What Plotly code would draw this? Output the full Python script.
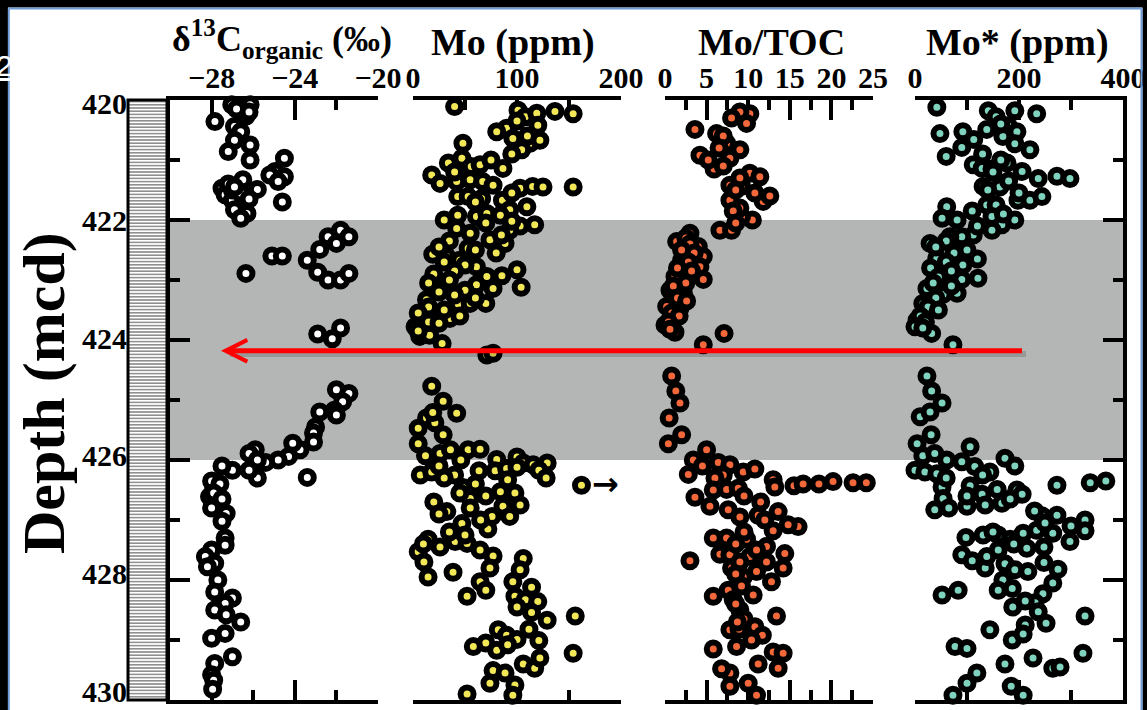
import plotly.graph_objects as go

W, H = 1147, 710

# ---------------- data ----------------
d13c_depth = [420.08, 420.11, 420.08, 420.36, 420.27, 420.44, 420.53, 420.67, 420.75, 420.86, 421.0, 420.97,
              421.19, 421.25, 421.28, 421.36, 421.7, 421.47, 421.33, 421.49, 421.58, 421.67, 421.75, 421.83,
              421.89, 421.97, 421.5, 422.17, 422.28, 422.28, 422.39, 422.49, 422.6, 422.6, 422.67, 422.87,
              423.0, 423.0, 422.89, 422.89, 423.9, 423.98, 423.8, 424.83, 424.89, 425.03, 425.17, 425.2,
              425.45, 425.25, 425.55, 425.7, 425.83, 425.72, 425.94, 426.0, 426.04, 425.83, 425.89, 426.0,
              426.3, 426.17, 426.29, 426.17, 426.1, 426.47, 426.61, 426.72, 426.8, 426.89, 427.02, 427.3,
              427.42, 427.5, 427.61, 427.72, 427.78, 428.0, 428.2, 428.3, 428.39, 428.5, 428.58, 428.7,
              428.89, 428.97, 429.28, 429.39, 429.58, 429.67, 429.82,
              426.35, 426.4, 426.55, 426.65, 420.15, 420.2, 421.55, 421.65, 421.4, 421.45]
d13c_value = [-27.03, -26.4, -26.15, -27.84, -26.35, -26.9, -26.6, -26.9, -26.15, -27.2, -26.15, -24.5,
              -24.95, -25.2, -24.5, -24.8, -24.6, -27.5, -26.5, -25.8, -27.35, -27.0, -26.5, -26.9,
              -26.3, -26.6, -27.0, -21.8, -21.4, -22.4, -22.0, -22.8, -25.1, -24.6, -23.4, -22.9,
              -22.4, -21.8, -21.4, -26.35, -22.9, -22.2, -21.8, -22.0, -21.4, -21.7, -22.1, -22.8,
              -23.0, -22.0, -23.1, -23.1, -23.75, -24.1, -24.3, -24.8, -25.4, -25.9, -26.2, -25.8,
              -25.8, -26.2, -23.4, -27.0, -27.5, -27.9, -28.1, -27.7, -28.0, -27.3, -27.5, -27.35,
              -27.35, -28.0, -28.3, -27.85, -28.2, -27.7, -27.85, -27.0, -27.35, -27.85, -27.3, -26.6,
              -27.35, -28.0, -27.0, -27.85, -28.0, -27.9, -27.95,
              -28.0, -27.6, -27.9, -27.5, -26.8, -26.2, -26.6, -26.2, -27.2, -26.9]

mo_depth = [420.11, 420.17, 420.28, 420.22, 420.19, 420.23, 420.42, 420.47, 420.53, 420.64, 420.72, 420.67,
            420.83, 420.72, 420.97, 421.05, 421.25, 421.39, 421.11, 421.08, 421.14, 421.36, 421.33, 421.36,
            421.42, 421.47, 421.44, 421.45, 421.45, 421.61, 421.61, 421.64, 421.67, 421.83, 421.78, 421.92,
            421.94, 421.89, 421.92, 422.14, 422.22, 422.1, 422.08, 422.17, 422.33, 422.39, 422.47, 422.57,
            422.61, 422.67, 422.78, 422.93, 422.83, 422.94, 423.08, 423.14, 423.17, 423.12, 423.12, 423.33,
            423.4, 423.39, 423.39, 423.65, 423.64, 423.78, 423.94, 424.06, 423.92, 424.25, 424.22, 424.77,
            425.02, 425.22, 425.3, 425.38, 425.47, 425.21, 425.58, 425.73, 425.93, 425.89, 425.83, 425.83,
            425.82, 425.99, 425.95, 426.05, 426.08, 426.05, 426.17, 426.3, 426.42, 426.0, 426.25, 426.2,
            426.25, 426.18, 426.18, 426.14, 426.33, 426.46, 426.64, 426.53, 426.55, 426.77, 426.75, 426.86,
            426.8, 426.94, 426.94, 427.06, 427.15, 427.32, 427.45, 427.36, 427.39, 427.5, 427.6, 427.53,
            427.7, 427.87, 427.8, 427.95, 428.03, 428.17, 428.27, 427.64, 427.83, 428.03, 428.12, 428.27,
            428.33, 428.36, 428.45, 428.54, 428.6, 428.67, 428.82, 428.83, 428.92, 428.99, 429.01, 429.05,
            429.11, 429.17, 429.08, 429.22, 429.4, 429.47, 429.3, 429.51, 429.55, 429.72, 429.75, 429.9,
            429.92,
            422.35, 422.45, 422.5, 422.55, 422.7, 422.75, 422.85, 422.9, 423.0, 423.05, 423.2, 423.25,
            423.3, 423.45, 423.5, 423.55, 423.7, 423.72, 423.85, 423.6, 422.0, 422.05, 421.7, 421.55,
            421.2, 421.0, 420.9, 420.35, 420.6, 422.25, 422.02,
            426.3, 426.4, 426.55, 426.6, 426.7, 426.9, 427.0, 427.2, 427.25, 427.4, 426.1, 426.12]
mo_value = [40, 101, 108, 119, 136.5, 154, 120, 90, 80.5, 96, 112.5, 122,
            104.5, 48, 47, 34, 18, 26, 56, 64.5, 86.5, 42, 55, 67,
            77, 103, 115, 125, 154, 43, 53, 66, 86, 93, 109.5, 43,
            61, 71, 84, 42, 55, 103, 117, 93, 74, 88.5, 53, 19,
            32.5, 45, 61, 85.5, 100, 71, 61, 77, 50, 104, 29, 13,
            43.5, 70, 55, 23, 35.5, 2, 6.5, 28, 16, 71, 77, 18,
            29, 42, 13, 21, 5, 19, 29, 5, 12, 26, 36, 53,
            64.5, 80.5, 100, 106, 115.5, 129, 121, 128, 162, 46, 7, 18,
            40, 63.5, 79, 90, 91, 48, 55, 84, 98, 86.5, 103, 32.5,
            55, 76, 93, 47, 72, 14.5, 26, 40.5, 52, 64.5, 77, 5,
            10.5, 38.5, 74, 14.5, 64.5, 70, 52, 106, 103, 96, 114, 98,
            108, 120, 100, 114, 156, 129, 111.5, 82, 90, 100, 121, 70,
            58, 80.5, 91, 154, 106, 117, 122, 77, 88.5, 74, 98, 52,
            96,
            35, 25, 60, 80, 30, 50, 40, 20, 35, 15, 25, 40,
            60, 15, 30, 5, 15, 25, 5, 45, 30, 70, 60, 95,
            40, 75, 95, 100, 110, 85, 95,
            30, 60, 45, 70, 20, 25, 65, 35, 50, 10, 25, 100]

motoc_depth = [420.23, 420.2, 420.49, 420.39, 420.56, 420.83, 420.72, 420.92, 420.97, 421.15, 421.22, 421.28,
               421.42, 421.44, 421.69, 421.6, 421.67, 422.0, 422.17, 422.17, 421.94, 422.22, 422.36, 422.44,
               422.61, 422.67, 422.78, 422.99, 422.94, 423.22, 423.17, 423.47, 423.44, 423.75, 423.87, 423.89,
               424.08, 424.6, 424.85, 425.05, 425.3, 425.58, 425.73, 426.0, 426.24, 425.83, 426.04, 426.08,
               426.2, 426.25, 426.15, 426.33, 426.45, 426.43, 426.4, 426.4, 426.36, 426.38, 426.38, 426.62,
               426.49, 426.47, 426.77, 426.83, 426.92, 426.86, 427.11, 427.18, 427.08, 427.3, 427.3, 427.32,
               427.44, 427.56, 427.57, 427.58, 427.61, 427.68, 427.7, 427.8, 427.95, 427.86, 427.8, 428.03,
               428.27, 428.17, 428.33, 428.25, 428.5, 428.6, 428.83, 428.82, 428.78, 428.92, 429.0, 429.15,
               429.11, 429.4, 429.2, 429.22, 429.47, 429.55, 429.48, 429.77, 429.72, 429.92,
               422.3, 422.4, 422.5, 422.55, 422.7, 422.8, 422.85, 423.05, 423.1, 423.3, 423.35, 423.55,
               423.6, 423.7, 423.82, 420.3, 420.6, 420.8, 421.0, 421.1, 421.3, 421.5, 421.55, 421.8,
               421.85, 422.05, 426.1, 426.3, 426.5, 426.6, 426.7, 426.95, 427.0, 427.2, 427.4, 427.5,
               427.7, 427.9, 428.1, 428.4, 428.65, 428.7]
motoc_value = [10.2, 9.0, 3.6, 9.8, 6.2, 9.0, 7.4, 4.2, 7.8, 5.9, 10.2, 11.4,
               7.8, 9.2, 11.8, 12.6, 7.8, 10.5, 6.6, 8.0, 9.2, 3.0, 1.4, 4.0,
               4.6, 2.0, 4.2, 4.6, 1.2, 2.2, 0.6, 1.8, 0.2, 0.0, 1.2, 7.1,
               4.6, 0.8, 1.3, 1.8, 0.5, 2.0, 0.4, 3.4, 2.8, 5.0, 6.4, 7.8,
               9.4, 7.0, 10.8, 13.0, 13.2, 15.5, 16.6, 18.5, 20.2, 22.6, 24.2, 3.6,
               7.4, 8.8, 5.4, 7.6, 11.2, 13.6, 16.0, 13.0, 14.8, 5.8, 7.4, 9.8,
               12.2, 14.4, 6.6, 7.8, 10.2, 3.0, 12.2, 8.0, 9.4, 11.0, 14.2, 12.8,
               5.8, 7.6, 8.2, 10.6, 9.0, 13.4, 7.8, 8.9, 10.8, 11.7, 10.4, 5.8,
               8.6, 11.2, 13.0, 14.2, 13.6, 7.8, 6.8, 7.8, 10.0, 11.0,
               2.5, 3.0, 2.0, 3.5, 2.8, 1.5, 3.2, 2.5, 1.0, 1.5, 2.6, 0.8,
               1.7, 0.4, 0.6, 8.0, 7.0, 6.5, 5.2, 7.0, 9.0, 8.5, 10.8, 9.0,
               8.2, 8.5, 4.5, 6.0, 5.8, 9.5, 11.5, 9.0, 12.0, 9.5, 8.5, 11.0,
               9.0, 8.5, 9.2, 8.5, 9.5, 8.7]

mostar_depth = [420.12, 420.18, 420.28, 420.18, 420.23, 420.43, 420.49, 420.56, 420.53, 420.66, 420.53, 420.61,
                420.73, 420.83, 420.79, 420.94, 421.08, 421.14, 421.15, 421.05, 421.19, 421.31, 421.27, 421.31,
                421.44, 421.45, 421.67, 421.67, 421.61, 421.75, 421.75, 421.78, 421.97, 422.0, 421.94, 422.0,
                422.08, 422.17, 422.25, 422.28, 422.28, 422.39, 422.64, 422.75, 422.99, 422.97, 423.14, 423.24,
                423.22, 423.39, 423.67, 423.78, 423.89, 424.08, 424.6, 424.85, 425.05, 425.28, 425.2, 425.58,
                425.73, 425.93, 425.89, 426.0, 425.78, 426.03, 426.11, 426.2, 425.97, 426.1, 426.17, 426.2,
                426.23, 426.45, 426.43, 426.57, 426.49, 426.5, 426.57, 426.64, 426.83, 426.8, 426.77, 426.75,
                426.72, 426.65, 426.42, 426.38, 426.35, 426.93, 426.92, 427.0, 427.18, 427.36, 427.22, 427.17,
                427.22, 427.32, 427.25, 427.25, 427.29, 427.58, 427.68, 427.8, 427.61, 427.73, 427.47, 427.45,
                427.82, 427.71, 427.83, 427.86, 428.05, 428.0, 428.17, 428.14, 428.25, 428.17, 428.23, 428.38,
                428.35, 428.45, 428.53, 428.72, 428.6, 428.75, 428.83, 429.0, 428.9, 429.11, 429.14, 429.4,
                429.3, 429.47, 429.45, 429.22, 429.55, 429.72, 429.77, 429.92, 429.92,
                422.35, 422.45, 422.5, 422.55, 422.65, 422.7, 422.8, 422.85, 422.95, 423.05, 423.1, 423.3,
                423.45, 423.5, 423.6, 423.7, 423.8, 420.4, 420.9, 421.0, 421.2, 421.35, 421.5, 421.55,
                421.85, 421.9, 422.1, 426.85, 427.05, 427.1, 427.2, 427.4, 427.5, 426.3, 426.6, 426.25]
mostar_value = [42, 141, 156, 192, 234, 179, 138, 48, 92, 113, 196, 169,
                192, 221, 90, 60, 112, 129, 148, 177, 206, 237, 273, 298,
                131, 163, 198, 221, 244, 138, 156, 61, 52, 81, 148, 192,
                167, 148, 112, 90, 67, 29, 42, 92, 90, 121, 23, 54,
                81, 15, 4, 0, 32, 73, 23, 32, 52, 10, 29, 31,
                4, 15, 38, 61, 106, 90, 115, 144, 173, 192, 0, 19,
                42, 52, 106, 129, 158, 196, 206, 54, 38, 65, 100, 135,
                167, 183, 273, 337, 367, 244, 273, 327, 327, 298, 265, 234,
                208, 183, 160, 131, 98, 90, 110, 135, 138, 173, 215, 248,
                275, 248, 192, 217, 265, 169, 160, 187, 52, 83, 246, 231,
                212, 188, 237, 252, 327, 212, 144, 187, 208, 77, 100, 173,
                227, 265, 279, 323, 119, 100, 185, 73, 208,
                60, 40, 100, 75, 120, 60, 30, 70, 45, 35, 70, 40,
                25, 45, 10, 20, 15, 165, 130, 165, 150, 180, 140, 200,
                110, 170, 120, 230, 250, 300, 150, 190, 160, 60, 100, 130]

panel_titles = ["δ<sup>13</sup>C<sub>organic</sub> (‰)", "Mo (ppm)", "Mo/TOC", "Mo* (ppm)"]
panel_ranges = [[-30, -20], [0, 200], [0, 25], [0, 400]]
panel_major = [(-28, 4), (0, 100), (0, 5), (0, 200)]
panel_minor = [2, 50, 2.5, 100]
panel_fill = ["#ffffff", "#f1e757", "#f2683a", "#7fd2bd"]
depth_range = [430, 420]
depth_ticks = [420, 422, 424, 426, 428, 430]
band = (422, 426)
arrow_depth = 424.18
offscale_depth = 426.4   # Mo point flagged with a small arrow

# ---------------- layout geometry (pixels) ----------------
panel_px = [(170, 378), (413, 621), (665, 873), (915, 1123)]
plot_top, plot_bot = 100, 700
col_px = (128, 167)
label_range = [430.153, 419.949]   # depth-label column scale (labels sit slightly compressed)

FONT = "Liberation Serif"


def fx(p):
    return p / W


def fy(p):
    return 1 - p / H


fig = go.Figure()

series = [(d13c_value, d13c_depth), (mo_value, mo_depth), (motoc_value, motoc_depth), (mostar_value, mostar_depth)]
for i, (vals, deps) in enumerate(series):
    fig.add_trace(go.Scatter(
        x=vals, y=deps, mode="markers", cliponaxis=False,
        xaxis="x" if i == 0 else f"x{i+1}", yaxis="y" if i == 0 else f"y{i+1}",
        marker=dict(size=13, color=panel_fill[i], line=dict(color="black", width=6)),
        showlegend=False, hoverinfo="skip"))

# hatched lithology column
fig.add_trace(go.Bar(
    x=[0], y=[label_range[0] - label_range[1]], base=[label_range[1]], width=[1],
    xaxis="x5", yaxis="y5", showlegend=False, hoverinfo="skip",
    marker=dict(color="white", line=dict(width=0),
                pattern=dict(shape="-", fgcolor="#222222", bgcolor="white", size=3.2, solidity=0.25))))

tickfont = dict(family=FONT, size=30, color="black", weight="bold")
dom_y = [fy(plot_bot), fy(plot_top)]

layout = dict(
    template="none",
    width=W, height=H, margin=dict(l=0, r=0, t=0, b=0, pad=0, autoexpand=False),
    paper_bgcolor="white", plot_bgcolor="rgba(0,0,0,0)",
    bargap=0, showlegend=False,
)
for i in range(4):
    key = "xaxis" if i == 0 else f"xaxis{i+1}"
    t0, dt = panel_major[i]
    layout[key] = dict(
        domain=[fx(panel_px[i][0]), fx(panel_px[i][1])], range=panel_ranges[i],
        anchor="y" if i == 0 else f"y{i+1}", side="top", automargin=False,
        showline=True, linewidth=4, linecolor="black", mirror="ticks",
        ticks="inside", ticklen=20, tickwidth=4, tickcolor="black",
        tick0=t0, dtick=dt, showgrid=False, zeroline=False, ticklabelstandoff=-4,
        minor=dict(ticks="inside", ticklen=10, tickwidth=4, tickcolor="black", dtick=panel_minor[i], tick0=t0,
                   showgrid=False),
        tickfont=tickfont, layer="below traces", fixedrange=True)
    ykey = "yaxis" if i == 0 else f"yaxis{i+1}"
    common_y = dict(domain=dom_y, range=depth_range, automargin=False, fixedrange=True,
                    showgrid=False, zeroline=False)
    if i in (0, 3):
        layout[ykey] = dict(common_y, anchor="x" if i == 0 else "x4", side="left" if i == 0 else "right",
                            showline=True, linewidth=4, linecolor="black",
                            ticks="inside", ticklen=20, tickwidth=4, tickcolor="black",
                            tick0=420, dtick=2, showticklabels=False,
                            minor=dict(ticks="inside", ticklen=10, tickwidth=4, tickcolor="black", dtick=1,
                                       showgrid=False),
                            layer="below traces")
    else:
        layout[ykey] = dict(common_y, anchor=f"x{i+1}", visible=False)

layout["xaxis5"] = dict(domain=[fx(col_px[0]), fx(col_px[1])], range=[-0.5, 0.5], anchor="y5",
                        visible=False, automargin=False, fixedrange=True)
layout["yaxis5"] = dict(domain=dom_y, range=label_range, anchor="x5", side="left", automargin=False,
                        tickvals=depth_ticks, ticks="", showline=False, showgrid=False, zeroline=False,
                        tickfont=tickfont, fixedrange=True)

fig.update_layout(**layout)

shapes = []
# grey interval band
shapes.append(dict(type="rect", xref="paper", yref="y", x0=fx(panel_px[0][0]), x1=fx(panel_px[3][1]),
                   y0=band[0], y1=band[1], fillcolor="#b4b6b6", line=dict(width=0), layer="below"))
# column outline
shapes.append(dict(type="rect", xref="paper", yref="paper", x0=fx(col_px[0]), x1=fx(col_px[1]),
                   y0=fy(plot_bot), y1=fy(plot_top), line=dict(color="black", width=3)))
# arrow shadow
shapes.append(dict(type="line", xref="paper", yref="y", x0=fx(230), x1=fx(1026),
                   y0=arrow_depth + 0.055, y1=arrow_depth + 0.055,
                   line=dict(color="rgba(0,0,0,0.16)", width=6)))
# slide frame
shapes.append(dict(type="rect", xref="paper", yref="paper", x0=0, x1=fx(8), y0=0, y1=1,
                   fillcolor="black", line=dict(width=0)))
shapes.append(dict(type="rect", xref="paper", yref="paper", x0=0, x1=1, y0=fy(7.5), y1=1,
                   fillcolor="black", line=dict(width=0)))
shapes.append(dict(type="rect", xref="paper", yref="paper", x0=fx(1142.5), x1=1, y0=0, y1=1,
                   fillcolor="black", line=dict(width=0)))
shapes.append(dict(type="line", xref="paper", yref="paper", x0=fx(8.5), x1=fx(1141.5), y0=fy(8.5), y1=fy(8.5),
                   line=dict(color="#6f9bd8", width=2)))
shapes.append(dict(type="line", xref="paper", yref="paper", x0=fx(8.8), x1=fx(8.8), y0=0, y1=fy(8.5),
                   line=dict(color="#6f9bd8", width=2)))
shapes.append(dict(type="line", xref="paper", yref="paper", x0=fx(1141.5), x1=fx(1141.5), y0=0, y1=fy(8.5),
                   line=dict(color="#6f9bd8", width=2)))
fig.update_layout(shapes=shapes)

ann = []
title_cx = [282, 513, 771, 1017]
title_cy = [39, 42, 42, 42]
title_size = [36, 38, 38, 38]
for t, cx, cy, fs in zip(panel_titles, title_cx, title_cy, title_size):
    ann.append(dict(text=t, xref="paper", yref="paper", x=fx(cx), y=fy(cy), xanchor="center", yanchor="middle",
                    showarrow=False, font=dict(family=FONT, size=fs, color="black", weight="bold")))
ann.append(dict(text="Depth (mcd)", xref="paper", yref="paper", x=fx(44), y=fy(393), textangle=-90,
                xanchor="center", yanchor="middle", showarrow=False,
                font=dict(family=FONT, size=60, color="black", weight="bold")))
# red arrow
ann.append(dict(xref="paper", yref="y", x=fx(221), y=arrow_depth, ax=1025 - 221, ay=0, axref="pixel", ayref="pixel",
                showarrow=True, arrowhead=5, arrowsize=0.85, arrowwidth=5, arrowcolor="#ff0000", text=" "))
# small off-scale arrow beside Mo point
ann.append(dict(text="→", xref="x2", yref="y2", x=185, y=offscale_depth, xanchor="center", yanchor="middle",
                showarrow=False, font=dict(family="DejaVu Sans", size=32, color="black", weight="bold")))
ann.append(dict(text="<u>2</u>", xref="paper", yref="paper", x=fx(-6), y=fy(66), xanchor="left", yanchor="middle",
                showarrow=False, font=dict(family="Liberation Sans", size=30, color="white")))
fig.update_layout(annotations=ann)

pin = ("var d=document.getElementById('{plot_id}');"
       "d.style.position='fixed';d.style.top='0px';d.style.left='0px';"
       "document.body.style.margin='0';document.body.style.overflow='hidden';")
fig.write_html("out.html", post_script=pin, config={"displayModeBar": False})
